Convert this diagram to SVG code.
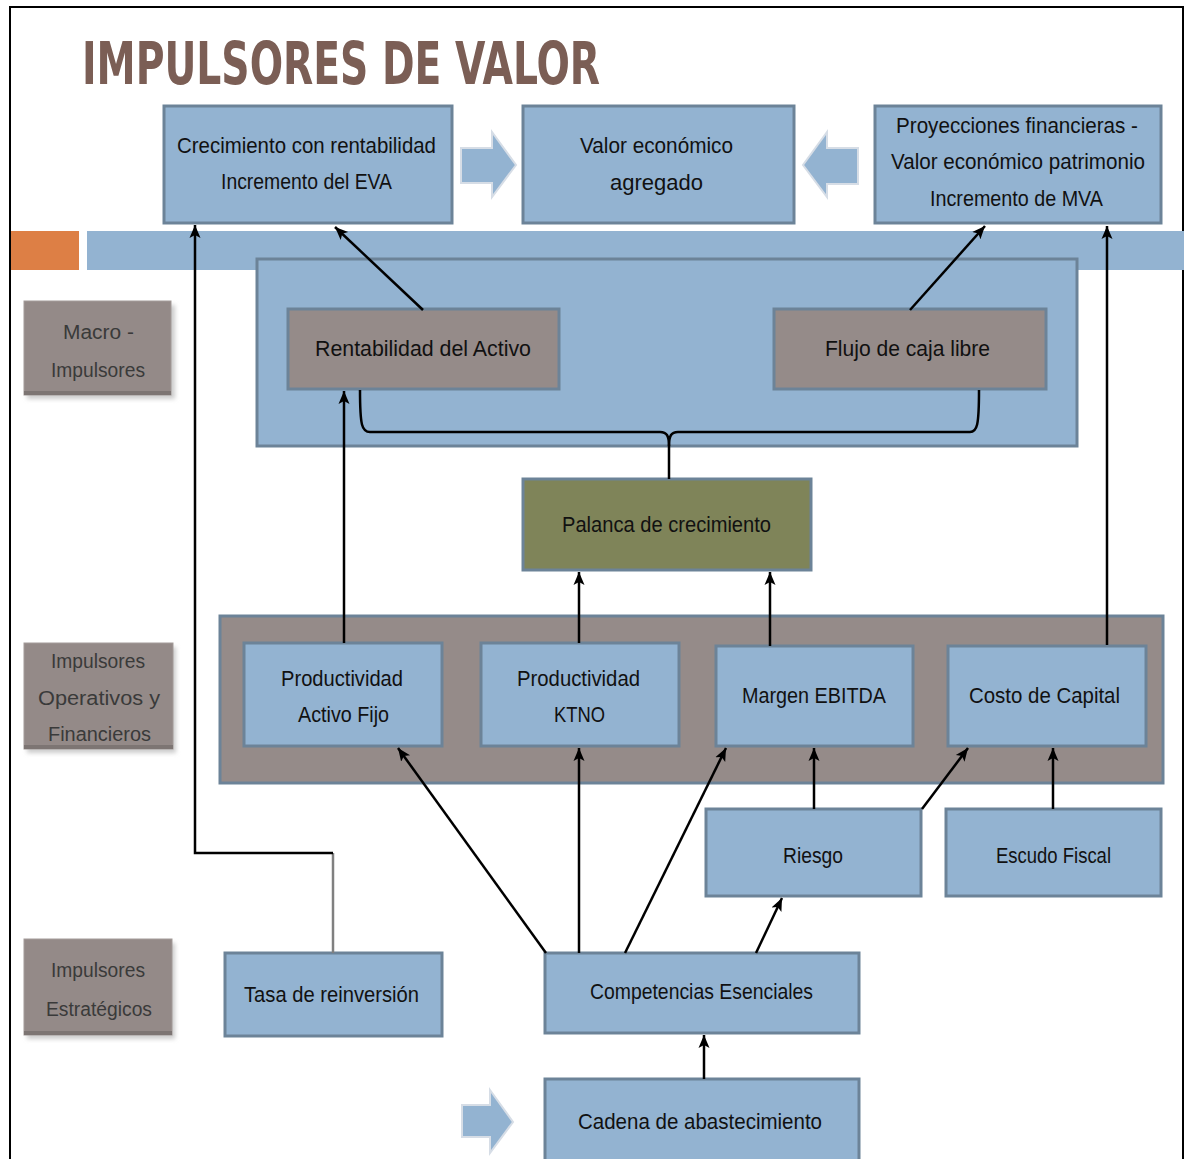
<svg xmlns="http://www.w3.org/2000/svg" width="1185" height="1159" viewBox="0 0 1185 1159">
<style>
.bl{fill:#93b3d1;stroke:#6c8398;stroke-width:3}
.gr{fill:#958b89;stroke:#6c8398;stroke-width:3}
.ol{fill:#7f8459;stroke:#6c8398;stroke-width:3}
.t{font-family:"Liberation Sans",Arial,sans-serif;font-size:22px;fill:#111}
.lt{font-family:"Liberation Sans",Arial,sans-serif;font-size:20px;fill:#3a3a3a}
.lab{fill:#948a88;stroke:#a39b99;stroke-width:1}
.c{fill:none;stroke:#000;stroke-width:2.5}
.ba{fill:#93b3d1;stroke:#d6dde6;stroke-width:2}
</style>
<defs>
<marker id="ah" markerUnits="userSpaceOnUse" markerWidth="14" markerHeight="14" viewBox="0 0 14 14" refX="13" refY="7" orient="auto">
<path d="M0,1.5 L13,7 L0,12.5 L3,7 Z" fill="#000"/>
</marker>
<filter id="sh" x="-10%" y="-10%" width="120%" height="130%">
<feGaussianBlur stdDeviation="2"/>
</filter>
</defs>
<rect x="0" y="0" width="1185" height="1159" fill="#fff"/>
<rect x="10" y="7" width="1173" height="1160" fill="none" stroke="#000" stroke-width="2"/>
<text x="82" y="84" font-family="'DejaVu Sans Condensed','Liberation Sans',sans-serif" font-weight="bold" font-size="58" fill="#7b5e55" textLength="518" lengthAdjust="spacingAndGlyphs">IMPULSORES DE VALOR</text>

<rect x="11" y="231" width="68" height="39" fill="#dd7f45"/>
<rect x="87" y="231" width="1097" height="39" fill="#93b3d1"/>

<g id="box-crecimiento">
<rect class="bl" x="164" y="106" width="288" height="117"/>
<text class="t" x="177" y="153" textLength="259" lengthAdjust="spacingAndGlyphs">Crecimiento con rentabilidad</text>
<text class="t" x="221" y="189" textLength="171" lengthAdjust="spacingAndGlyphs">Incremento del EVA</text>
</g>
<g id="arrow-right-top">
<path class="ba" d="M461,148 L492,148 L492,132 L516,165 L492,197 L492,183 L461,183 Z"/>
</g>
<g id="box-valor">
<rect class="bl" x="523" y="106" width="271" height="117"/>
<text class="t" x="580" y="153" textLength="153" lengthAdjust="spacingAndGlyphs">Valor  económico</text>
<text class="t" x="610" y="190" textLength="93" lengthAdjust="spacingAndGlyphs">agregado</text>
</g>
<g id="arrow-left-top">
<path class="ba" d="M858,148 L827,148 L827,132 L803,165 L827,197 L827,184 L858,184 Z"/>
</g>
<g id="box-proyecciones">
<rect class="bl" x="875" y="106" width="286" height="117"/>
<text class="t" x="896" y="133" textLength="242" lengthAdjust="spacingAndGlyphs">Proyecciones financieras  -</text>
<text class="t" x="891" y="169" textLength="254" lengthAdjust="spacingAndGlyphs">Valor  económico patrimonio</text>
<text class="t" x="930" y="206" textLength="173" lengthAdjust="spacingAndGlyphs">Incremento de MVA</text>
</g>

<g id="macro-container">
<rect class="bl" x="257" y="259" width="820" height="187"/>
</g>
<g id="box-rentabilidad">
<rect class="gr" x="288" y="309" width="271" height="80"/>
<text class="t" x="315" y="356" textLength="216" lengthAdjust="spacingAndGlyphs">Rentabilidad   del Activo</text>
</g>
<g id="box-flujo">
<rect class="gr" x="774" y="309" width="272" height="80"/>
<text class="t" x="825" y="356" textLength="165" lengthAdjust="spacingAndGlyphs">Flujo de caja libre</text>
</g>
<g id="box-palanca">
<rect class="ol" x="523" y="479" width="288" height="91"/>
<text class="t" x="562" y="532" textLength="209" lengthAdjust="spacingAndGlyphs">Palanca de crecimiento</text>
</g>

<g id="oper-container">
<rect class="gr" x="220" y="616" width="943" height="167"/>
</g>
<g id="box-paf">
<rect class="bl" x="244" y="643" width="198" height="103"/>
<text class="t" x="281" y="686" textLength="122" lengthAdjust="spacingAndGlyphs">Productividad</text>
<text class="t" x="298" y="722" textLength="91" lengthAdjust="spacingAndGlyphs">Activo Fijo</text>
</g>
<g id="box-ktno">
<rect class="bl" x="481" y="643" width="198" height="103"/>
<text class="t" x="517" y="686" textLength="123" lengthAdjust="spacingAndGlyphs">Productividad</text>
<text class="t" x="554" y="722" textLength="51" lengthAdjust="spacingAndGlyphs">KTNO</text>
</g>
<g id="box-margen">
<rect class="bl" x="716" y="646" width="197" height="100"/>
<text class="t" x="742" y="703" textLength="144" lengthAdjust="spacingAndGlyphs">Margen  EBITDA</text>
</g>
<g id="box-costo">
<rect class="bl" x="948" y="646" width="198" height="100"/>
<text class="t" x="969" y="703" textLength="151" lengthAdjust="spacingAndGlyphs">Costo de Capital</text>
</g>
<g id="box-riesgo">
<rect class="bl" x="706" y="809" width="215" height="87"/>
<text class="t" x="783" y="863" textLength="60" lengthAdjust="spacingAndGlyphs">Riesgo</text>
</g>
<g id="box-escudo">
<rect class="bl" x="946" y="809" width="215" height="87"/>
<text class="t" x="996" y="863" textLength="115" lengthAdjust="spacingAndGlyphs">Escudo Fiscal</text>
</g>
<g id="box-tasa">
<rect class="bl" x="225" y="953" width="217" height="83"/>
<text class="t" x="244" y="1002" textLength="175" lengthAdjust="spacingAndGlyphs">Tasa de reinversión</text>
</g>
<g id="box-competencias">
<rect class="bl" x="545" y="953" width="314" height="80"/>
<text class="t" x="590" y="999" textLength="223" lengthAdjust="spacingAndGlyphs">Competencias Esenciales</text>
</g>
<g id="box-cadena">
<rect class="bl" x="545" y="1079" width="314" height="84"/>
<text class="t" x="578" y="1129" textLength="244" lengthAdjust="spacingAndGlyphs">Cadena  de abastecimiento</text>
</g>
<g id="arrow-right-bottom">
<path class="ba" d="M462,1105 L490,1105 L490,1090 L513,1122 L490,1153 L490,1137 L462,1137 Z"/>
</g>

<g id="label-macro">
<rect x="27" y="305" width="148" height="94" fill="#ccc" filter="url(#sh)"/>
<rect class="lab" x="24" y="301" width="147" height="94"/>
<rect x="24" y="391" width="147" height="4" fill="#7d7573"/>
<text class="lt" x="63" y="339" textLength="71" lengthAdjust="spacingAndGlyphs">Macro -</text>
<text class="lt" x="51" y="377" textLength="94" lengthAdjust="spacingAndGlyphs">Impulsores</text>
</g>
<g id="label-operativos">
<rect x="27" y="647" width="149" height="106" fill="#ccc" filter="url(#sh)"/>
<rect class="lab" x="24" y="643" width="149" height="106"/>
<rect x="24" y="745" width="149" height="4" fill="#7d7573"/>
<text class="lt" x="51" y="668" textLength="94" lengthAdjust="spacingAndGlyphs">Impulsores</text>
<text class="lt" x="38" y="705" textLength="122" lengthAdjust="spacingAndGlyphs">Operativos y</text>
<text class="lt" x="48" y="741" textLength="103" lengthAdjust="spacingAndGlyphs">Financieros</text>
</g>
<g id="label-estrategicos">
<rect x="27" y="943" width="148" height="96" fill="#ccc" filter="url(#sh)"/>
<rect class="lab" x="24" y="939" width="148" height="96"/>
<rect x="24" y="1031" width="148" height="4" fill="#7d7573"/>
<text class="lt" x="51" y="977" textLength="94" lengthAdjust="spacingAndGlyphs">Impulsores</text>
<text class="lt" x="46" y="1016" textLength="106" lengthAdjust="spacingAndGlyphs">Estratégicos</text>
</g>

<g id="connectors">
<path class="c" d="M360,390 C360,426 362,432 370,432 L660,432 C667,432 669,436 669,446 L669,479"/>
<path class="c" d="M669,446 C669,436 671,432 678,432 L970,432 C977,432 979,426 979,390"/>
<path d="M333,953 L333,853" fill="none" stroke="#808080" stroke-width="2.5"/>
<path class="c" d="M333,853 L195,853 L195,225" marker-end="url(#ah)"/>
<path class="c" d="M423,310 L335,227" marker-end="url(#ah)"/>
<path class="c" d="M910,310 L985,226" marker-end="url(#ah)"/>
<path class="c" d="M1107,645 L1107,226" marker-end="url(#ah)"/>
<path class="c" d="M344,643 L344,391" marker-end="url(#ah)"/>
<path class="c" d="M579,643 L579,572" marker-end="url(#ah)"/>
<path class="c" d="M770,646 L770,572" marker-end="url(#ah)"/>
<path class="c" d="M814,809 L814,748" marker-end="url(#ah)"/>
<path class="c" d="M922,809 L968,748" marker-end="url(#ah)"/>
<path class="c" d="M1053,809 L1053,748" marker-end="url(#ah)"/>
<path class="c" d="M546,953 L398,748" marker-end="url(#ah)"/>
<path class="c" d="M579,953 L579,748" marker-end="url(#ah)"/>
<path class="c" d="M625,953 L726,748" marker-end="url(#ah)"/>
<path class="c" d="M756,953 L782,898" marker-end="url(#ah)"/>
<path class="c" d="M704,1079 L704,1035" marker-end="url(#ah)"/>
</g>
</svg>
